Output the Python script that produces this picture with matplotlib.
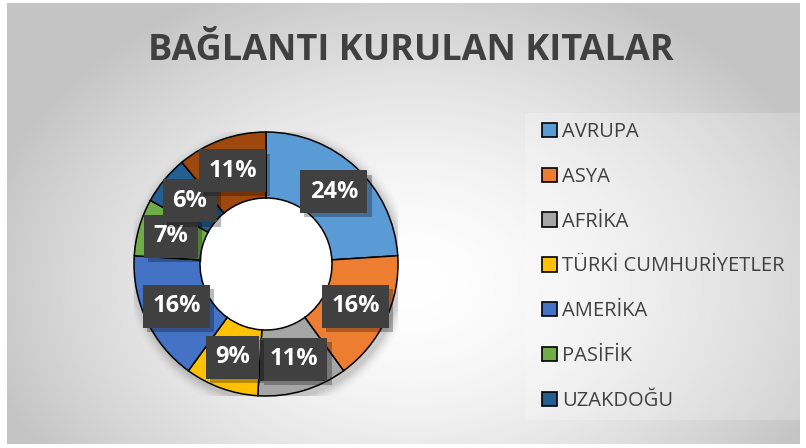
import numpy as np
import matplotlib
matplotlib.use("Agg")
import matplotlib.pyplot as plt
from matplotlib.patches import Rectangle, Patch
import matplotlib.patheffects as pe

categories = ["AVRUPA", "ASYA", "AFRİKA", "TÜRKİ CUMHURİYETLER", "AMERİKA",
              "PASİFİK", "UZAKDOĞU", "DİĞER"]
values = [24, 16, 11, 9, 16, 7, 6, 11]
colors = ["#5B9BD5", "#ED7D31", "#A5A5A5", "#FFC000", "#4472C4",
          "#70AD47", "#255E91", "#9E480E"]
title = "BAĞLANTI KURULAN KITALAR"
legend_count = 7

W, H = 806, 448
fig = plt.figure(figsize=(W / 100, H / 100), dpi=100)
fig.patch.set_facecolor("white")

# background radial gradient (chart area frame)
bg = fig.add_axes([7 / W, 1 - 444 / H, 793 / W, 441 / H])
bg.set_axis_off()
yy, xx = np.mgrid[0:441, 0:793]
cx, cy = 405, 280
d = np.sqrt(((xx - cx) / 440.0) ** 2 + ((yy - cy) / 320.0) ** 2)
d = np.clip(d, 0, 1)
g = 1.0 - 0.23 * d ** 1.6
img = np.dstack([g, g, g])
bg.imshow(img, aspect="auto", extent=[0, 1, 0, 1], interpolation="bilinear")
bg.set_xlim(0, 1)
bg.set_ylim(0, 1)

# legend backdrop
fig.patches.append(Rectangle((525 / W, 1 - 420 / H), 275 / W, 307 / H,
                             transform=fig.transFigure, facecolor="white",
                             alpha=0.22, edgecolor="none", zorder=1))

fig.text(411 / W, 1 - 51 / H, title, ha="center", va="center",
         fontsize=26, fontweight="bold", color="#404040", family="Open Sans")

R = 132
ax = fig.add_axes([(266 - R) / W, (H - 264 - R) / H, 2 * R / W, 2 * R / H])
ax.set_axis_off()

# soft shadow
for i, a in enumerate(np.linspace(0.05, 0.01, 6)):
    sh = plt.Circle((0.02, -0.03), 1.0 + 0.015 * (i + 1), color="black",
                    alpha=a, zorder=0, lw=0)
    ax.add_patch(sh)
ax.add_patch(plt.Circle((0, 0), 0.5, facecolor="white", edgecolor="none", zorder=0.5))

wedges, _ = ax.pie(values, colors=colors, startangle=90, counterclock=False,
                   radius=1.0,
                   wedgeprops=dict(width=0.5, edgecolor="black", linewidth=1.1))
ax.set_xlim(-1, 1)
ax.set_ylim(-1, 1)

total = sum(values)
cum = 0
for v in values:
    mid = 90 - (cum + v / 2) / total * 360
    cum += v
    r = 0.75
    x, y = r * np.cos(np.radians(mid)), r * np.sin(np.radians(mid))
    t = ax.text(x, y, f"{round(v / total * 100)}%", ha="center", va="center",
                fontsize=17, fontweight="bold", color="white", family="Open Sans",
                zorder=5,
                bbox=dict(boxstyle="square,pad=0.4", facecolor="#404040",
                          edgecolor="none", linewidth=0))
    t.get_bbox_patch().set_path_effects(
        [pe.SimplePatchShadow(offset=(3, -3), shadow_rgbFace="black", alpha=0.28),
         pe.Normal()])

handles = [Patch(facecolor=c, edgecolor="black", linewidth=1.2)
           for c in colors[:legend_count]]
leg = fig.legend(handles, categories[:legend_count], loc="upper left",
                 bbox_to_anchor=(524 / W, 1 - 104 / H), frameon=False,
                 prop=dict(family="Open Sans", size=14.5),
                 labelcolor="#404040", handlelength=0.72, handleheight=0.72,
                 handletextpad=0.25, labelspacing=1.23)

fig.savefig("out.png", dpi=100)
